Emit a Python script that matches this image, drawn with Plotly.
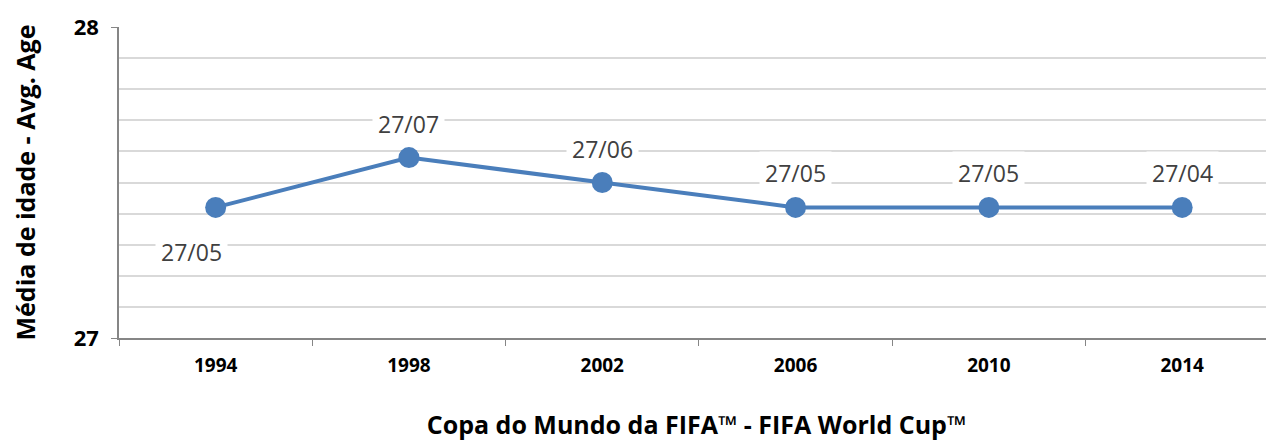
import plotly.graph_objects as go

years = ["1994", "1998", "2002", "2006", "2010", "2014"]
avg_age = [27.42, 27.58, 27.50, 27.42, 27.42, 27.42]
labels = ["27/05", "27/07", "27/06", "27/05", "27/05", "27/04"]

line_color = "#4A7EBB"
grid_color = "#D9D9D9"
axis_color = "#868686"
text_color = "#404040"

fig = go.Figure()
fig.add_trace(go.Scatter(
    x=years, y=avg_age, mode="lines+markers",
    line=dict(color=line_color, width=4),
    marker=dict(color=line_color, size=21),
    hoverinfo="skip", showlegend=False,
))

# label placement: first below-left, rest above (x given as category index)
for i, (v, lab) in enumerate(zip(avg_age, labels)):
    if i == 0:
        xs, ys = -24, -45
    else:
        xs, ys = 0, 34
    fig.add_annotation(
        x=i, y=v, text=lab, showarrow=False, xshift=xs, yshift=ys,
        font=dict(family="Open Sans", size=23, color=text_color),
        bgcolor="white", borderpad=5,
    )

fig.update_layout(
    width=1266, height=433,
    margin=dict(l=111, r=0, t=19, b=103),
    paper_bgcolor="white", plot_bgcolor="white",
    font=dict(family="Open Sans", color="black"),
    xaxis=dict(
        type="category", range=[-0.5, 5.475], automargin=False,
        showline=True, linecolor=axis_color, linewidth=1.5,
        ticks="outside", tickson="boundaries", ticklen=6, tickcolor=axis_color,
        ticklabelstandoff=9,
        showgrid=False,
        tickfont=dict(family="Open Sans", size=19, color="black", weight="bold"),
        title=dict(text="Copa do Mundo da FIFA™ - FIFA World Cup™",
                   font=dict(family="Open Sans", size=25, color="black", weight="bold"),
                   standoff=44),
    ),
    yaxis=dict(
        range=[27, 28], tickvals=[27, 28], automargin=False,
        showline=True, linecolor=axis_color, linewidth=1.5,
        ticks="outside", ticklen=6, tickcolor=axis_color,
        ticklabelstandoff=8,
        showgrid=True, gridcolor=grid_color, gridwidth=1.5,
        zeroline=False,
        minor=dict(dtick=0.1, showgrid=True, gridcolor=grid_color, gridwidth=1.5, ticks=""),
        tickfont=dict(family="Open Sans", size=22, color="black", weight="bold"),
        title=dict(text="Média de idade - Avg. Age",
                   font=dict(family="Open Sans", size=25, color="black", weight="bold"),
                   standoff=37),
    ),
)

fig.write_html("out.html")
